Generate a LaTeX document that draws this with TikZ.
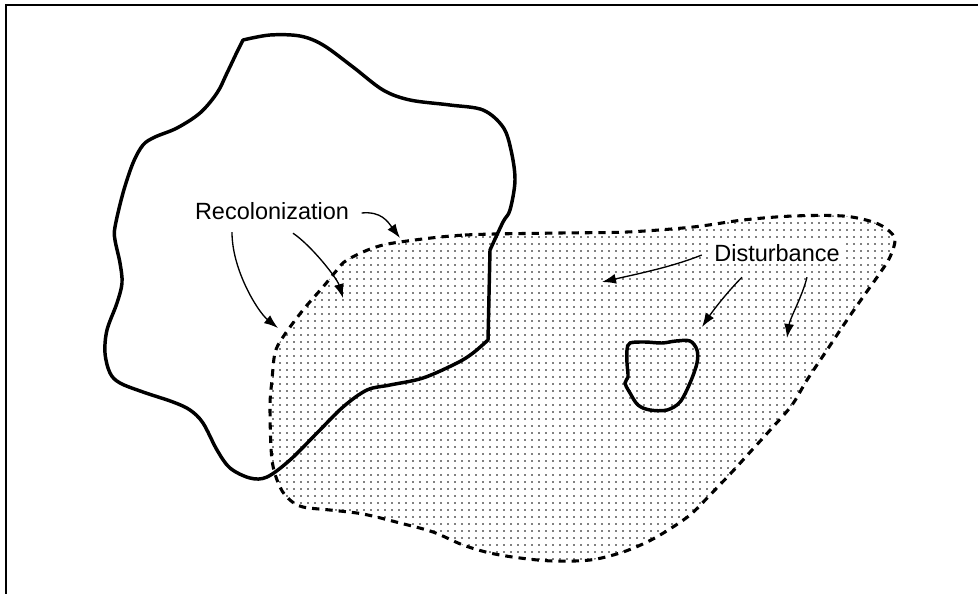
\documentclass[tikz,border=0pt]{standalone}
\usepackage{fontspec}
\setmainfont{Liberation Sans}
\usetikzlibrary{arrows.meta,calc,patterns}

\pgfdeclarepatternformonly{stipple}{\pgfpoint{-1pt}{-1pt}}{\pgfpoint{1pt}{1pt}}%
  {\pgfpoint{5.25pt}{5.25pt}}{\pgfpathcircle{\pgfpointorigin}{0.7pt}\pgfusepath{fill}}

\begin{document}
\begin{tikzpicture}[
  x=0.75pt, y=-0.75pt,
  font=\fontsize{17.6}{20}\selectfont,
  lbl/.style={inner sep=1pt, fill=white},
  habitat/.style={line width=2.6pt, line join=round, line cap=round},
  patch/.style={line width=2.3pt, dash pattern=on 5.5pt off 4.5pt, pattern=stipple},
  arr/.style={-{Latex[length=10.5pt,width=7.5pt]}, line width=1pt},
  frame/.style={line width=1.2pt},
]
\useasboundingbox (0,0) rectangle (978,594);
\draw[frame] (978,5) -- (6,5) -- (6,594);

% disturbed patch
\draw[patch] plot[smooth cycle, tension=0.55] coordinates {
  (400,242) (465,235) (560,233) (627,232) (693,227) (743,220) (793,216)
  (843,216) (873,222) (888,230) (895,240) (890,257) (880,273) (863,297)
  (847,320) (827,350) (807,380) (792,405) (772,428) (752,450) (732,472)
  (710,495) (690,515) (665,532) (645,543) (620,553) (590,560) (553,561)
  (520,558) (490,553) (463,545) (433,532) (400,523) (363,514) (330,510)
  (303,507) (290,500) (280,487) (272,460) (270,407) (272,380) (275,353)
  (283,337) (303,310) (323,287) (337,270) (347,260) (373,248)};

% large habitat
\draw[habitat] plot[smooth, tension=0.55] coordinates {
  (243,40) (270,35) (300,36) (323,45) (353,67) (383,90) (410,100) (450,105)
  (483,110) (503,127) (511,150) (515,180) (510,210) (503,222) (490,250)}
  -- plot[smooth, tension=0.55] coordinates {
  (488,340) (473,353) (457,363) (423,378) (390,385) (367,390) (343,407)
  (317,433) (290,460) (267,477) (250,478) (230,468) (217,450) (203,423)
  (190,410) (173,402) (143,392) (120,383) (110,373) (105,353) (107,330)
  (117,303) (122,283) (120,263) (115,240) (115,227) (123,193) (133,163)
  (143,145) (155,137) (177,128) (200,113) (217,93) (227,73) (237,52) (243,40)};

% small hole
\draw[habitat] plot[smooth cycle, tension=0.55] coordinates {
  (630,343) (645,342) (662,343) (676,341) (690,341) (697,350) (697,363)
  (690,383) (680,402) (667,410) (650,410) (638,405) (630,393) (625,383)
  (628,377) (627,363) (627,350)};

\node[lbl] (recol) at (272,211) {Recolonization};
\node[lbl] (dist) at (777,253) {Disturbance};

\coordinate (rtop) at (400,238);
\coordinate (rleft) at (278,328);
\coordinate (rmid) at (343,298);
\coordinate (dwest) at (602,282);
\coordinate (dhole) at (702,327);
\coordinate (deast) at (787,338);

\draw[arr] ($(recol.east)+(11,2)$) .. controls +(20,-2) and +(-12,-16) .. (rtop);
\draw[arr] ($(recol.south)+(-40,11)$) .. controls +(0,38) and +(-20,-16) .. (rleft);
\draw[arr] ($(recol.south)+(21,12)$) .. controls +(18,12) and +(-6,-20) .. (rmid);

\draw[arr] ($(dist.west)+(-11,2)$) .. controls +(-30,12) and +(35,-8) .. (dwest);
\draw[arr] ($(dist.south)+(-35,14)$) .. controls +(-15,15) and +(10,-15) .. (dhole);
\draw[arr] ($(dist.south)+(30,14)$) .. controls +(-5,20) and +(3,-20) .. (deast);
\end{tikzpicture}
\end{document}
